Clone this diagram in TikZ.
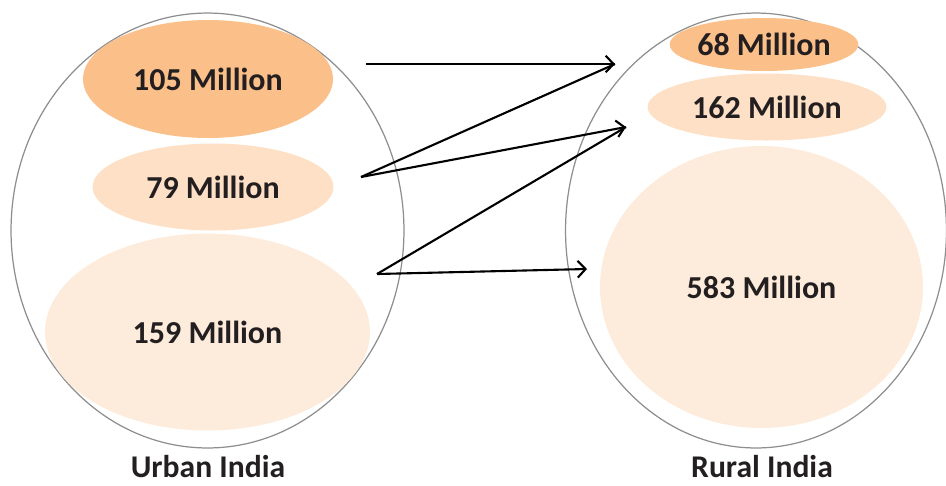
\documentclass[tikz,border=0pt]{standalone}
\usepackage{fontspec}
\setmainfont{Carlito}
\usetikzlibrary{positioning}
\usetikzlibrary{arrows.meta}
\usetikzlibrary{shapes.geometric}

\definecolor{popdark}{HTML}{FBBF89}
\definecolor{popmid}{HTML}{FDE0C5}
\definecolor{poplight}{HTML}{FDEBDB}
\definecolor{rimgray}{HTML}{8E8E8E}
\definecolor{inktext}{HTML}{231F20}

\tikzset{
  region/.style={ellipse, draw=rimgray, line width=0.7pt, inner sep=0pt},
  blob/.style={ellipse, inner sep=0pt, text=inktext, font=\fontsize{18.2}{22}\selectfont\bfseries},
  caption/.style={text=inktext, inner sep=0pt, font=\fontsize{18}{22}\selectfont\bfseries},
  flow/.style={line width=1.2pt, -{Straight Barb[length=4.5pt,width=9.5pt]}},
  link/.style={line width=1.2pt}
}

\begin{document}
\begin{tikzpicture}[x=0.02cm, y=-0.02cm]
  \useasboundingbox (0,0) rectangle (946,485);

  % Draw the two outer regions
  \node[region, minimum width=7.86cm, minimum height=8.7cm] (urban) at (207.5,230.5) {};
  \node[region, minimum width=7.62cm, minimum height=8.7cm] (rural) at (756,230.5) {};

  % Draw the groups inside each region
  \node[blob, fill=popdark, minimum width=5cm, minimum height=2.36cm] (u105) at (208,79) {105 Million};
  \node[blob, fill=popmid, minimum width=4.82cm, minimum height=1.74cm] (u79) at (213,187) {79 Million};
  \node[blob, fill=poplight, minimum width=6.5cm, minimum height=3.94cm] (u159) at (207.5,332) {159 Million};

  \node[blob, fill=popdark, minimum width=3.44cm, minimum height=1.06cm] (r68) at (764,44.5) {68 Million};
  \node[blob, fill=popmid, minimum width=4.78cm, minimum height=1.34cm] (r162) at (767,107) {162 Million};
  \node[blob, fill=poplight, minimum width=6.46cm, minimum height=5.64cm] (r583) at (761.5,287) {583 Million};

  \node[caption] (urbanlbl) at (208,467) {Urban India};
  \node[caption] (rurallbl) at (762,467) {Rural India};

  % Set the corner points of the zig-zag
  \coordinate (s1) at (366,64);
  \coordinate (t1) at (615,64);
  \coordinate (k1) at (361,177);
  \coordinate (t2) at (626,127);
  \coordinate (k2) at (377,274);
  \coordinate (t3) at (587,269);

  % Draw the arrows between the regions
  \draw[flow] (s1) -- (t1);
  \draw[link] (t1) -- (k1);
  \draw[flow] (k1) -- (t2);
  \draw[link] (t2) -- (k2);
  \draw[flow] (k2) -- (t3);
\end{tikzpicture}
\end{document}
